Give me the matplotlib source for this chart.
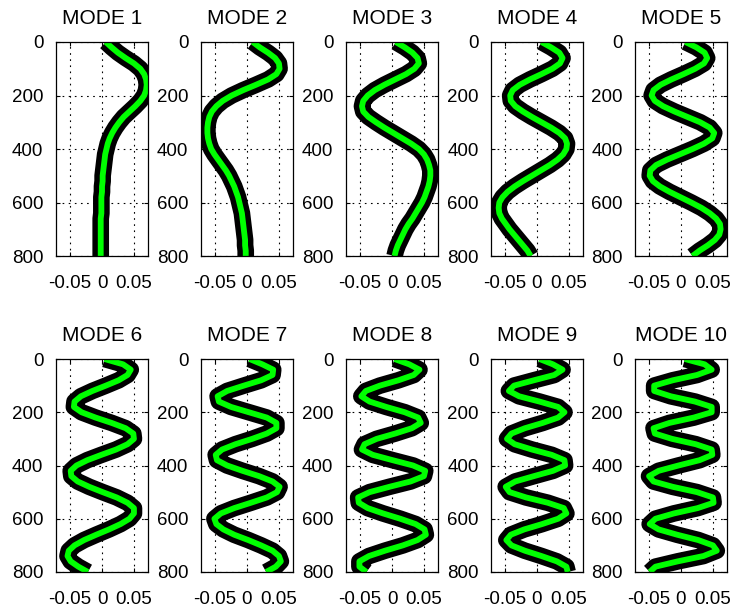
import numpy as np
import matplotlib.pyplot as plt

plt.rcParams['font.family'] = ['Liberation Sans', 'DejaVu Sans']

# depth samples (m), shared by all modes
depth = np.arange(0, 801, 20)

mode1 = [0.006, 0.015, 0.025, 0.037, 0.050, 0.060, 0.066, 0.069, 0.070, 0.069,
         0.066, 0.060, 0.052, 0.043, 0.034, 0.027, 0.021, 0.016, 0.012, 0.009,
         0.007, 0.005, 0.004, 0.003, 0.002, 0.001, 0.001, 0.000, 0.000, -0.001,
         -0.001, -0.001, -0.001, -0.002, -0.002, -0.002, -0.002, -0.002, -0.002, -0.002,
         -0.002]
mode2 = [0.009, 0.020, 0.033, 0.044, 0.050, 0.051, 0.046, 0.033, 0.014, -0.006,
         -0.024, -0.038, -0.048, -0.055, -0.059, -0.061, -0.062, -0.062, -0.061, -0.059,
         -0.056, -0.051, -0.045, -0.039, -0.033, -0.028, -0.024, -0.020, -0.017, -0.014,
         -0.012, -0.010, -0.008, -0.007, -0.006, -0.005, -0.004, -0.003, -0.003, -0.002,
         -0.002]
mode3 = [0.006, 0.020, 0.032, 0.040, 0.042, 0.035, 0.022, 0.005, -0.012, -0.027,
         -0.038, -0.045, -0.047, -0.045, -0.037, -0.025, -0.012, 0.002, 0.016, 0.030,
         0.042, 0.050, 0.055, 0.058, 0.060, 0.060, 0.059, 0.057, 0.054, 0.051,
         0.047, 0.042, 0.037, 0.032, 0.026, 0.021, 0.017, 0.013, 0.009, 0.006,
         0.004]
mode4 = [0.007, 0.022, 0.035, 0.040, 0.036, 0.024, 0.007, -0.011, -0.027, -0.038,
         -0.042, -0.041, -0.034, -0.022, -0.008, 0.007, 0.022, 0.035, 0.044, 0.047,
         0.046, 0.041, 0.032, 0.020, 0.006, -0.008, -0.022, -0.035, -0.046, -0.054,
         -0.059, -0.060, -0.059, -0.055, -0.049, -0.043, -0.036, -0.029, -0.022, -0.015,
         -0.010]
mode5 = [0.007, 0.024, 0.037, 0.041, 0.036, 0.022, 0.004, -0.015, -0.032, -0.043,
         -0.046, -0.041, -0.028, -0.010, 0.010, 0.030, 0.045, 0.052, 0.049, 0.036,
         0.018, -0.002, -0.022, -0.039, -0.048, -0.049, -0.044, -0.033, -0.018, -0.001,
         0.016, 0.032, 0.045, 0.055, 0.061, 0.062, 0.060, 0.053, 0.042, 0.029,
         0.018]
mode6 = [0.004, 0.033, 0.045, 0.040, 0.026, 0.006, -0.015, -0.033, -0.043, -0.044,
         -0.032, -0.010, 0.015, 0.037, 0.049, 0.050, 0.040, 0.022, -0.001, -0.023,
         -0.040, -0.049, -0.048, -0.038, -0.020, 0.001, 0.023, 0.040, 0.050, 0.050,
         0.043, 0.029, 0.011, -0.009, -0.028, -0.043, -0.052, -0.054, -0.049, -0.037,
         -0.022]
mode7 = [0.004, 0.024, 0.041, 0.040, 0.022, -0.005, -0.031, -0.046, -0.044, -0.025,
         0.003, 0.031, 0.046, 0.046, 0.031, 0.008, -0.018, -0.039, -0.049, -0.047,
         -0.031, -0.007, 0.019, 0.040, 0.051, 0.047, 0.031, 0.006, -0.020, -0.041,
         -0.051, -0.048, -0.037, -0.020, 0.002, 0.022, 0.040, 0.050, 0.053, 0.045,
         0.030]
mode8 = [0.004, 0.027, 0.043, 0.034, 0.010, -0.019, -0.041, -0.048, -0.035, -0.009,
         0.020, 0.041, 0.045, 0.031, 0.005, -0.024, -0.043, -0.047, -0.030, 0.001,
         0.033, 0.052, 0.050, 0.029, -0.004, -0.035, -0.053, -0.052, -0.038, -0.014,
         0.013, 0.037, 0.051, 0.053, 0.040, 0.017, -0.011, -0.036, -0.051, -0.051,
         -0.040]
mode9 = [0.004, 0.025, 0.040, 0.027, -0.005, -0.036, -0.044, -0.028, 0.004, 0.033,
         0.043, 0.033, 0.009, -0.019, -0.040, -0.047, -0.035, -0.008, 0.023, 0.043,
         0.044, 0.025, -0.005, -0.034, -0.049, -0.043, -0.017, 0.017, 0.042, 0.046,
         0.033, 0.008, -0.020, -0.041, -0.048, -0.040, -0.019, 0.007, 0.031, 0.046,
         0.048]
mode10 = [0.006, 0.037, 0.048, 0.025, -0.013, -0.042, -0.042, -0.016, 0.022, 0.048,
          0.048, 0.020, -0.018, -0.043, -0.041, -0.014, 0.023, 0.048, 0.049, 0.029,
          -0.004, -0.035, -0.050, -0.043, -0.013, 0.025, 0.050, 0.051, 0.026, -0.011,
          -0.040, -0.049, -0.035, -0.006, 0.027, 0.050, 0.056, 0.035, -0.005, -0.040,
          -0.049]

modes = [mode1, mode2, mode3, mode4, mode5, mode6, mode7, mode8, mode9, mode10]
titles = ['MODE %d' % (k + 1) for k in range(len(modes))]
xticks = [-0.05, 0, 0.05]
xticklabels = ['-0.05', '0', '0.05']
yticks = [0, 200, 400, 600, 800]

W, H = 737, 612
fig = plt.figure(figsize=(W / 100, H / 100), dpi=100)

# panel placement in pixels
lefts = [56, 201, 346, 491, 635]
rows = [(42, 256), (359, 572)]
pw = 92

for i, m in enumerate(modes):
    r, c = divmod(i, 5)
    top, bot = rows[r]
    ax = fig.add_axes([lefts[c] / W, 1 - bot / H, pw / W, (bot - top) / H])
    ax.plot(m, depth, color='k', lw=12, solid_capstyle='butt', solid_joinstyle='round')
    ax.plot(m, depth, color='#00ff00', lw=4.2, solid_capstyle='butt', solid_joinstyle='round')
    ax.set_xlim(-0.072, 0.072)
    ax.set_ylim(800, 0)
    ax.set_xticks(xticks)
    ax.set_xticklabels(xticklabels)
    ax.set_yticks(yticks)
    ax.set_axisbelow(True)
    ax.grid(True, color='k', lw=0.8, linestyle=(0, (1.5, 4)))
    ax.tick_params(direction='in', top=True, right=True, length=3, width=0.8,
                   labelsize=13.5)
    ax.tick_params(axis='x', pad=14)
    ax.tick_params(axis='y', pad=9)
    for s in ax.spines.values():
        s.set_linewidth(0.9)
    ax.set_title(titles[i], fontsize=15, pad=13)

fig.savefig('out.png', dpi=100)
